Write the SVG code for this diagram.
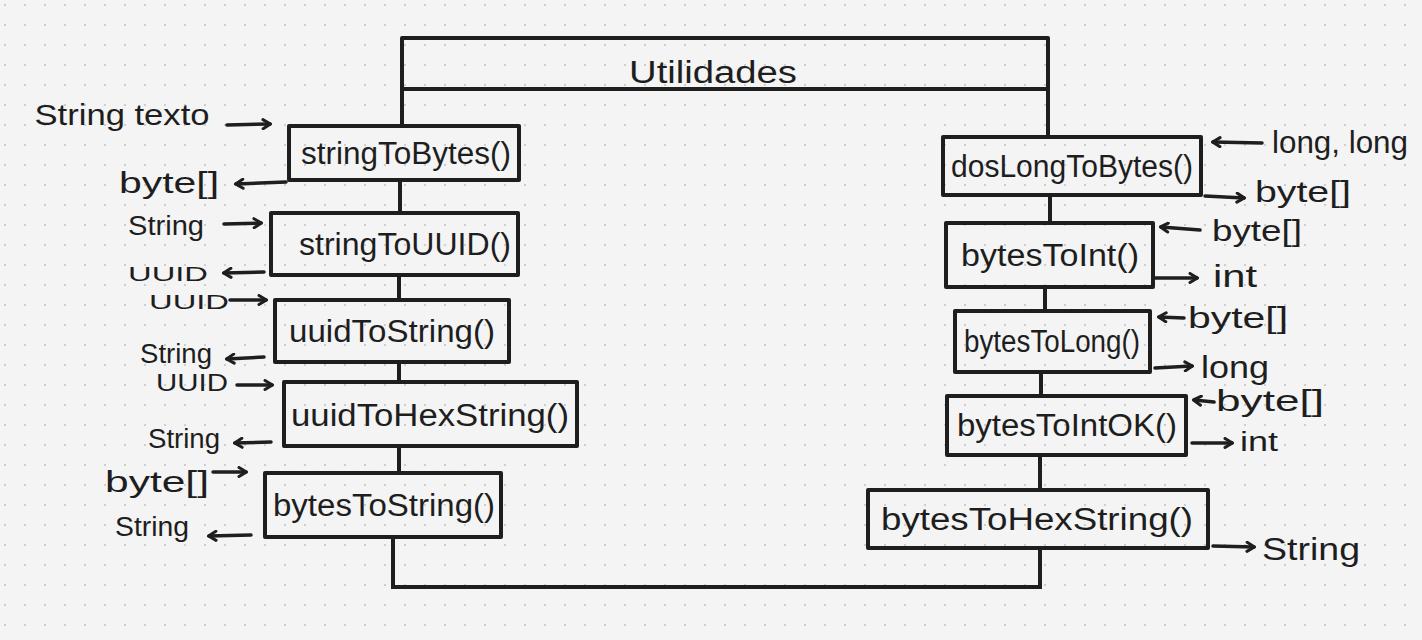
<svg xmlns="http://www.w3.org/2000/svg" width="1422" height="640" viewBox="0 0 1422 640">
<defs>
<pattern id="dots" width="20" height="20" patternUnits="userSpaceOnUse" x="0" y="0">
<circle cx="5" cy="5" r="1.1" fill="#c4c4c4"/>
</pattern>
<marker id="ah" markerWidth="12" markerHeight="12" refX="9" refY="6" orient="auto" markerUnits="userSpaceOnUse">
<path d="M2,1.5 L9.5,6 L2,10.5" fill="none" stroke="#1e1e1e" stroke-width="3" stroke-linecap="round" stroke-linejoin="round"/>
</marker>
<style>
.box{fill:none;stroke:#1e1e1e;stroke-width:4;stroke-linejoin:round}
.ln{fill:none;stroke:#1e1e1e;stroke-width:4;stroke-linecap:round}
.ar{fill:none;stroke:#1e1e1e;stroke-width:3.5;stroke-linecap:round;marker-end:url(#ah)}
.t{font-family:"Liberation Sans",Arial,sans-serif;font-size:31px;fill:#1e1e1e;text-anchor:middle}
.l{font-family:"Liberation Sans",Arial,sans-serif;font-size:27px;fill:#1e1e1e;text-anchor:middle}
</style>
</defs>
<rect width="1422" height="640" fill="#f4f4f4"/>
<rect width="1422" height="640" fill="url(#dots)"/>

<g id="utilidades">
<path class="ln" d="M402,38 L1048,38 M402,89 L1048,89 M402,38 L402,89 M1048,38 L1048,89"/>
<text class="t" x="713" y="83" textLength="168" lengthAdjust="spacingAndGlyphs">Utilidades</text>
</g>

<g id="connectors">
<path class="ln" d="M402,89 L402,126 M1048,89 L1048,137"/>
<path class="ln" d="M400,180 L400,213 M399,275 L399,300 M399,362 L399,382 M399,446 L399,473 M393,537 L393,587 L1040,587 L1040,548"/>
<path class="ln" d="M1050,195 L1050,223 M1045,287 L1045,311 M1041,372 L1041,396 M1040,455 L1040,490"/>
<!-- left arrows -->
<path class="ar" d="M227,125 L270,124"/>
<path class="ar" d="M286,182 L236,184"/>
<path class="ar" d="M224,224 L261,223"/>
<path class="ar" d="M264,272 L224,273"/>
<path class="ar" d="M230,300 L266,300"/>
<path class="ar" d="M264,357 L227,359"/>
<path class="ar" d="M237,385 L272,385"/>
<path class="ar" d="M271,442 L235,443"/>
<path class="ar" d="M213,472 L246,472"/>
<path class="ar" d="M251,535 L209,536"/>
<!-- right arrows -->
<path class="ar" d="M1262,143 L1213,142"/>
<path class="ar" d="M1205,196 L1244,198"/>
<path class="ar" d="M1200,230 L1161,227"/>
<path class="ar" d="M1155,278 L1197,278"/>
<path class="ar" d="M1184,318 L1159,317"/>
<path class="ar" d="M1155,368 L1192,366"/>
<path class="ar" d="M1214,402 L1194,400"/>
<path class="ar" d="M1192,443 L1232,443"/>
<path class="ar" d="M1213,546 L1254,547"/>
</g>

<g id="stringToBytes">
<rect class="box" x="289" y="126" width="230" height="54"/>
<text class="t" x="406" y="164" textLength="210" lengthAdjust="spacingAndGlyphs">stringToBytes()</text>
</g>
<g id="stringToUUID">
<rect class="box" x="271" y="213" width="247" height="62"/>
<text class="t" x="405" y="255" textLength="212" lengthAdjust="spacingAndGlyphs">stringToUUID()</text>
</g>
<g id="uuidToString">
<rect class="box" x="275" y="300" width="234" height="62"/>
<text class="t" x="392" y="342" textLength="206" lengthAdjust="spacingAndGlyphs">uuidToString()</text>
</g>
<g id="uuidToHexString">
<rect class="box" x="284" y="382" width="293" height="64"/>
<text class="t" x="430" y="426" textLength="278" lengthAdjust="spacingAndGlyphs">uuidToHexString()</text>
</g>
<g id="bytesToString">
<rect class="box" x="265" y="473" width="236" height="64"/>
<text class="t" x="384" y="516" textLength="222" lengthAdjust="spacingAndGlyphs">bytesToString()</text>
</g>

<g id="dosLongToBytes">
<rect class="box" x="943" y="137" width="258" height="58"/>
<text class="t" x="1072" y="177" textLength="242" lengthAdjust="spacingAndGlyphs">dosLongToBytes()</text>
</g>
<g id="bytesToInt">
<rect class="box" x="946" y="223" width="207" height="64"/>
<text class="t" x="1050" y="266" textLength="178" lengthAdjust="spacingAndGlyphs">bytesToInt()</text>
</g>
<g id="bytesToLong">
<rect class="box" x="955" y="311" width="195" height="61"/>
<text class="t" x="1052" y="352" textLength="176" lengthAdjust="spacingAndGlyphs">bytesToLong()</text>
</g>
<g id="bytesToIntOK">
<rect class="box" x="947" y="396" width="239" height="59"/>
<text class="t" x="1067" y="436" textLength="220" lengthAdjust="spacingAndGlyphs">bytesToIntOK()</text>
</g>
<g id="bytesToHexString">
<rect class="box" x="868" y="490" width="340" height="58"/>
<text class="t" x="1037" y="530" textLength="312" lengthAdjust="spacingAndGlyphs">bytesToHexString()</text>
</g>

<g id="labels">
<text class="l" x="122" y="125" style="font-size:30px" textLength="175" lengthAdjust="spacingAndGlyphs">String texto</text>
<text class="l" x="169" y="193" style="font-size:30px" textLength="100" lengthAdjust="spacingAndGlyphs">byte[]</text>
<text class="l" x="166" y="235" textLength="76" lengthAdjust="spacingAndGlyphs">String</text>
<text class="l" x="168" y="281" style="font-size:21px" textLength="80" lengthAdjust="spacingAndGlyphs">UUID</text>
<text class="l" x="189" y="309" style="font-size:21px" textLength="80" lengthAdjust="spacingAndGlyphs">UUID</text>
<text class="l" x="176" y="363" textLength="72" lengthAdjust="spacingAndGlyphs">String</text>
<text class="l" x="192" y="391" style="font-size:23px" textLength="72" lengthAdjust="spacingAndGlyphs">UUID</text>
<text class="l" x="184" y="448" textLength="72" lengthAdjust="spacingAndGlyphs">String</text>
<text class="l" x="157" y="492" style="font-size:30px" textLength="104" lengthAdjust="spacingAndGlyphs">byte[]</text>
<text class="l" x="152" y="536" textLength="74" lengthAdjust="spacingAndGlyphs">String</text>

<text class="l" x="1340" y="153" style="font-size:31px" textLength="136" lengthAdjust="spacingAndGlyphs">long, long</text>
<text class="l" x="1303" y="202" style="font-size:30px" textLength="96" lengthAdjust="spacingAndGlyphs">byte[]</text>
<text class="l" x="1257" y="241" style="font-size:29px" textLength="90" lengthAdjust="spacingAndGlyphs">byte[]</text>
<text class="l" x="1235" y="287" style="font-size:31px" textLength="44" lengthAdjust="spacingAndGlyphs">int</text>
<text class="l" x="1238" y="328" style="font-size:30px" textLength="100" lengthAdjust="spacingAndGlyphs">byte[]</text>
<text class="l" x="1235" y="378" style="font-size:31px" textLength="68" lengthAdjust="spacingAndGlyphs">long</text>
<text class="l" x="1270" y="411" style="font-size:30px" textLength="108" lengthAdjust="spacingAndGlyphs">byte[]</text>
<text class="l" x="1259" y="451" textLength="38" lengthAdjust="spacingAndGlyphs">int</text>
<text class="l" x="1311" y="560" style="font-size:31px" textLength="98" lengthAdjust="spacingAndGlyphs">String</text>
</g>
</svg>
